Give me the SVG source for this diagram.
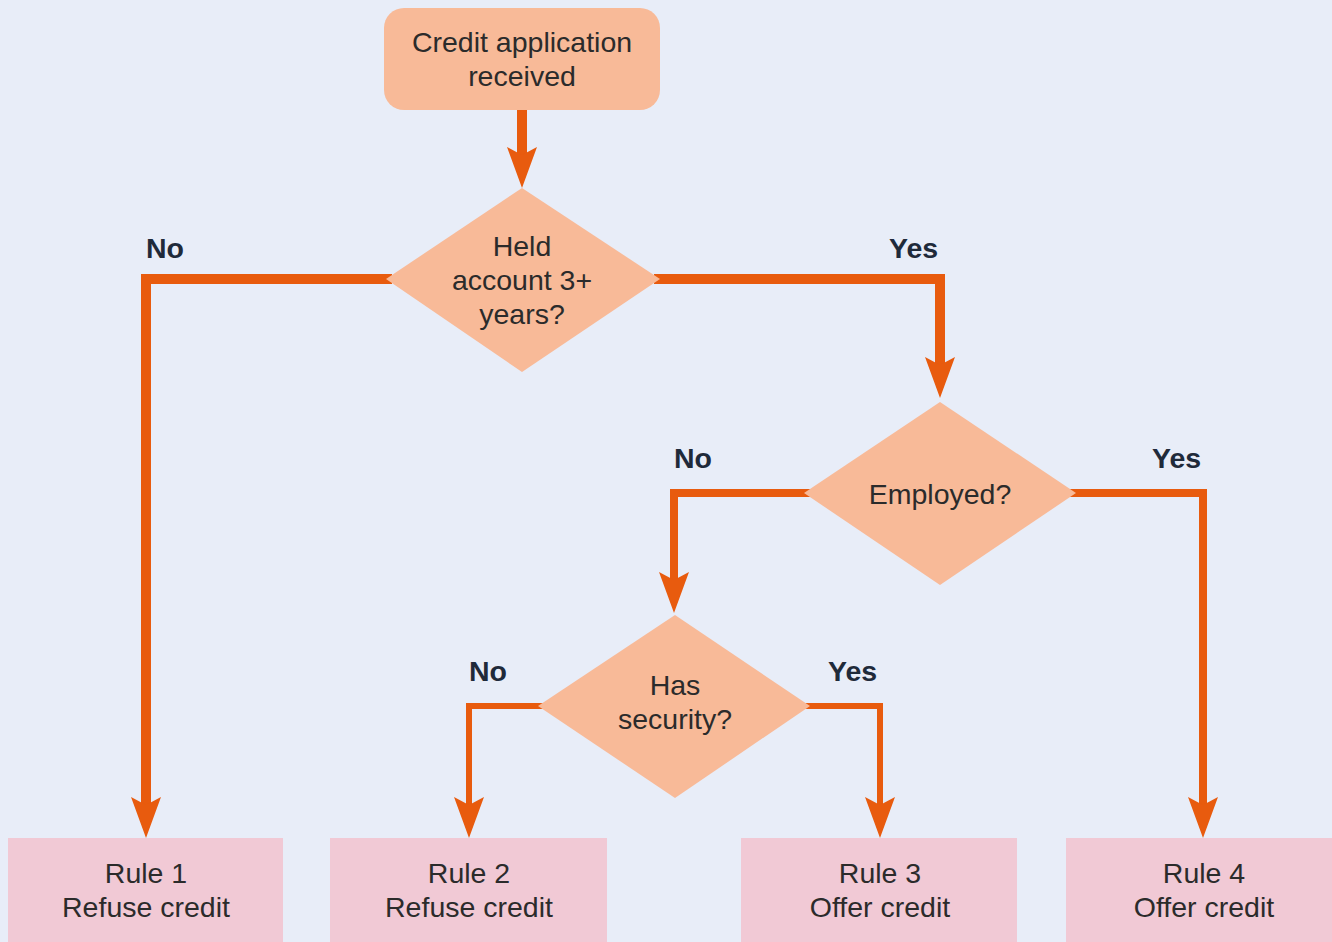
<svg xmlns="http://www.w3.org/2000/svg" width="1332" height="942" viewBox="0 0 1332 942">
<style>
.bg{fill:#E8EDF8}
.start{fill:#F8BA98}
.dec{fill:#F8BA98}
.rule{fill:#F1C9D5}
.t{font-family:"Liberation Sans",Arial,sans-serif;font-size:28.5px;fill:#2b2b2b;text-anchor:middle}
.lbl{font-family:"Liberation Sans",Arial,sans-serif;font-size:28.5px;font-weight:bold;fill:#1f2a3a}
.c{fill:none;stroke:#E85B0E;stroke-linejoin:miter;stroke-linecap:butt}
.w1{stroke-width:10}
.w2{stroke-width:8}
.w3{stroke-width:6}
</style>
<defs>
<marker id="arr" markerUnits="userSpaceOnUse" markerWidth="60" markerHeight="40" refX="0" refY="0" orient="auto" overflow="visible">
<path d="M33,0 L-8,-15 L0,0 L-8,15 Z" fill="#E85B0E"/>
</marker>
</defs>
<rect class="bg" x="0" y="0" width="1332" height="942"/>
<g id="connectors">
<path class="c w1" d="M522,108 V155" marker-end="url(#arr)"/>
<path class="c w1" d="M392,279 H146 V805" marker-end="url(#arr)"/>
<path class="c w1" d="M654,279 H940 V365" marker-end="url(#arr)"/>
<path class="c w2" d="M810,493 H674 V580" marker-end="url(#arr)"/>
<path class="c w2" d="M1070,493 H1203 V805" marker-end="url(#arr)"/>
<path class="c w3" d="M544,706 H469 V805" marker-end="url(#arr)"/>
<path class="c w3" d="M804,706 H880 V805" marker-end="url(#arr)"/>
</g>
<g id="labels">
<text class="lbl" x="146" y="258">No</text>
<text class="lbl" x="889" y="258">Yes</text>
<text class="lbl" x="674" y="468">No</text>
<text class="lbl" x="1152" y="468">Yes</text>
<text class="lbl" x="469" y="681">No</text>
<text class="lbl" x="828" y="681">Yes</text>
</g>
<g id="start">
<rect class="start" x="384" y="8" width="276" height="102" rx="20" ry="20"/>
<text class="t" x="522" y="52">Credit application</text>
<text class="t" x="522" y="86">received</text>
</g>
<g id="d1">
<polygon class="dec" points="522,188 660,279 522,372 386,279"/>
<text class="t" x="522" y="256">Held</text>
<text class="t" x="522" y="290">account 3+</text>
<text class="t" x="522" y="324">years?</text>
</g>
<g id="d2">
<polygon class="dec" points="940,402 1076,493 940,585 804,493"/>
<text class="t" x="940" y="504">Employed?</text>
</g>
<g id="d3">
<polygon class="dec" points="675,615 810,706 675,798 538,706"/>
<text class="t" x="675" y="695">Has</text>
<text class="t" x="675" y="729">security?</text>
</g>
<g id="rule1">
<rect class="rule" x="8" y="838" width="275" height="110"/>
<text class="t" x="146" y="883">Rule 1</text>
<text class="t" x="146" y="917">Refuse credit</text>
</g>
<g id="rule2">
<rect class="rule" x="330" y="838" width="277" height="110"/>
<text class="t" x="469" y="883">Rule 2</text>
<text class="t" x="469" y="917">Refuse credit</text>
</g>
<g id="rule3">
<rect class="rule" x="741" y="838" width="276" height="110"/>
<text class="t" x="880" y="883">Rule 3</text>
<text class="t" x="880" y="917">Offer credit</text>
</g>
<g id="rule4">
<rect class="rule" x="1066" y="838" width="276" height="110"/>
<text class="t" x="1204" y="883">Rule 4</text>
<text class="t" x="1204" y="917">Offer credit</text>
</g>
</svg>
